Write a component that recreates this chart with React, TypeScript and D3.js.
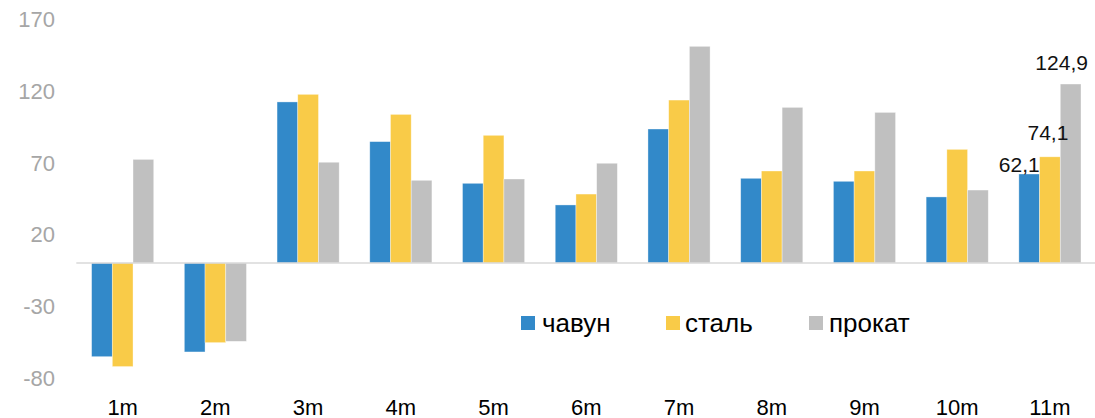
import React from 'react';
import * as d3 from 'd3';

// Chart data
const categories = ['1m', '2m', '3m', '4m', '5m', '6m', '7m', '8m', '9m', '10m', '11m'];
const seriesNames = ['чавун', 'сталь', 'прокат'];
const chavun = [-65.4, -62.1, 112.4, 84.7, 55.6, 40.5, 93.5, 59.1, 57.0, 46.1, 62.1];
const stal = [-72.3, -55.6, 117.7, 103.7, 89.1, 48.1, 113.7, 64.2, 64.2, 79.3, 74.1];
const prokat = [72.3, -54.7, 70.3, 57.7, 58.6, 69.6, 151.2, 108.6, 105.1, 50.9, 124.9];
const yTicks = [-80, -30, 20, 70, 120, 170];
// only the last month carries value labels
const labelledCategory = '11m';
const labelTexts = ['62,1', '74,1', '124,9'];

const colors = ['#3289C9', '#F9CB48', '#C0C0C0'];
const WIDTH = 1095;
const HEIGHT = 418;

export default function App() {
  const series = [chavun, stal, prokat];

  const x = d3
    .scaleBand<string>()
    .domain(categories)
    .range([76.3, 1096.3])
    .paddingInner(0.33)
    .paddingOuter(0.165);

  const xSub = d3
    .scaleBand<string>()
    .domain(seriesNames)
    .range([0, x.bandwidth()])
    .padding(0);

  const y = d3.scaleLinear().domain([-80, 170]).range([377.6, 19.4]);

  // manual nudges for the value labels (as in the source chart)
  const labelOffsets = [
    { dx: -10, dy: -2 },
    { dx: -2, dy: -17 },
    { dx: -9, dy: -14 },
  ];

  const legendItems = [
    { sx: 521, tx: 542 },
    { sx: 666, tx: 685 },
    { sx: 809, tx: 829 },
  ];

  return (
    <svg
      width={WIDTH}
      height={HEIGHT}
      style={{ position: 'absolute', left: 0, top: 0, background: '#fff' }}
      fontFamily="'Liberation Sans', Arial, sans-serif"
    >
      {/* y tick labels */}
      <g fill="#A6A6A6" fontSize={22} textAnchor="end">
        {yTicks.map(t => (
          <text key={t} x={55} y={y(t)} dy="0.36em">
            {t}
          </text>
        ))}
      </g>

      {/* bars */}
      {series.map((vals, si) => (
        <g key={seriesNames[si]} fill={colors[si]}>
          {categories.map((c, ci) => {
            const v = vals[ci];
            const x0 = (x(c) ?? 0) + (xSub(seriesNames[si]) ?? 0);
            return (
              <rect
                key={c}
                x={x0}
                y={Math.min(y(v), y(0))}
                width={xSub.bandwidth()}
                height={Math.abs(y(v) - y(0))}
                stroke="#fff"
                strokeOpacity={0.5}
                strokeWidth={0.7}
              />
            );
          })}
        </g>
      ))}

      {/* zero line */}
      <line x1={76.3} x2={WIDTH} y1={y(0)} y2={y(0)} stroke="#D9D9D9" strokeWidth={1.5} />

      {/* value labels */}
      <g fill="#111" fontSize={21} textAnchor="middle">
        {series.map((vals, si) => {
          const ci = categories.indexOf(labelledCategory);
          const cx =
            (x(labelledCategory) ?? 0) + (xSub(seriesNames[si]) ?? 0) + xSub.bandwidth() / 2;
          return (
            <text
              key={si}
              x={cx + labelOffsets[si].dx}
              y={y(vals[ci]) + labelOffsets[si].dy}
            >
              {labelTexts[si]}
            </text>
          );
        })}
      </g>

      {/* x labels */}
      <g fill="#000" fontSize={22} textAnchor="middle">
        {categories.map(c => (
          <text key={c} x={(x(c) ?? 0) + x.bandwidth() / 2} y={415}>
            {c}
          </text>
        ))}
      </g>

      {/* legend */}
      <g fontSize={26} fill="#000">
        {seriesNames.map((name, i) => (
          <g key={name}>
            <rect x={legendItems[i].sx} y={316} width={14} height={14} fill={colors[i]} />
            <text x={legendItems[i].tx} y={331.5}>
              {name}
            </text>
          </g>
        ))}
      </g>
    </svg>
  );
}
